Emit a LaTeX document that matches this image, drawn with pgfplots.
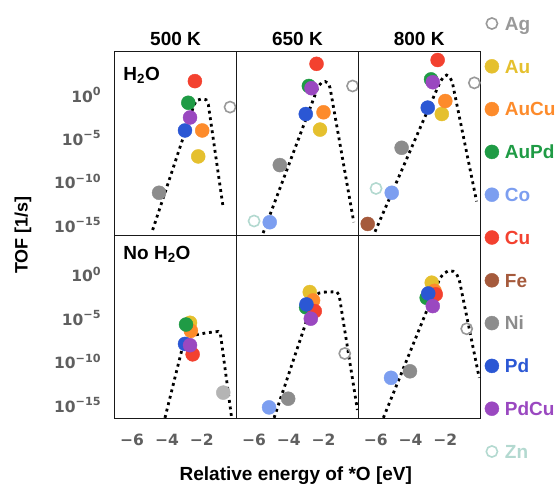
\documentclass[border=0pt]{standalone}
\usepackage{pgfplots}
\pgfplotsset{compat=1.18}
\usepackage{fontspec}
\setmainfont{Liberation Sans}
\newfontfamily\dv{DejaVu Sans}

\definecolor{cAg}{HTML}{999999}
\definecolor{cAu}{HTML}{E5C02E}
\definecolor{cAuCu}{HTML}{FD8B2B}
\definecolor{cAuPd}{HTML}{1F9B45}
\definecolor{cCo}{HTML}{7C9EF0}
\definecolor{cCu}{HTML}{F3412F}
\definecolor{cFe}{HTML}{A55A3C}
\definecolor{cNi}{HTML}{8C8C8C}
\definecolor{cPd}{HTML}{2B57D4}
\definecolor{cPdCu}{HTML}{9A48C0}
\definecolor{cZn}{HTML}{B3D9D0}
\definecolor{tickgray}{HTML}{5F5F5F}

\newcommand{\tp}[1]{10\raisebox{0.42em}{\fontsize{11.2}{11.2}\selectfont #1}}

\pgfplotsset{
  every axis title shift=0pt,
  panel/.style={scale only axis, width=121.8pt, height=183.5pt,
    xmin=-7, xmax=0, anchor=south west, clip=false,
    axis line style={line width=1.1pt, black!90},
    tick style={draw=none},
    xtick={-6,-4,-2}, ytick={-15,-10,-5,0},
    xticklabels={}, yticklabels={},
    ticklabel style={font=\dv\bfseries\fontsize{15.5}{16}\selectfont, text=tickgray},
    xticklabel style={yshift=-12pt},
    yticklabel style={xshift=-10.5pt},
    title style={at={(0.5,1)}, anchor=center, yshift=13pt, font=\bfseries\fontsize{19}{19}\selectfont},
    legend image code/.code={\draw[##1] plot coordinates {(7pt,0pt)};},
  },
  toprow/.style={ymin=-16.2, ymax=5},
  botrow/.style={ymin=-16.6, ymax=4.5},
  leftcol/.style={yticklabels={\tp{−15},\tp{−10},\tp{−5},\tp{0}}},
  botlabels/.style={xticklabels={−6,−4,−2}},
  fm/.style={only marks, mark=*, mark size=7pt, color=#1, mark options={draw=none, fill=#1}},
  om/.style={only marks, mark=o, mark size=5.6pt, color=#1, mark options={line width=1.6pt, draw=#1, fill=none}},
  volcano/.style={no marks, black, line width=2.8pt, dash pattern=on 2.8pt off 3.8pt, forget plot},
}

\begin{document}
\begin{tikzpicture}
\path (0pt,0pt) rectangle (559pt,489pt);

% ---------- 500 K, H2O ----------
\begin{axis}[panel, toprow, leftcol, at={(114.7pt,253.8pt)}, title={500 K}]
\addplot[om=cAg] coordinates {(-0.37,-1.4)};
\addplot[fm=cAu] coordinates {(-2.2,-7.1)};
\addplot[fm=cAuCu] coordinates {(-1.97,-4.1)};
\addplot[fm=cAuPd] coordinates {(-2.77,-0.9)};
\addplot[fm=cCu] coordinates {(-2.39,1.6)};
\addplot[fm=cNi] coordinates {(-4.45,-11.3)};
\addplot[fm=cPd] coordinates {(-2.96,-4.1)};
\addplot[fm=cPdCu] coordinates {(-2.67,-2.6)};
\addplot[volcano] coordinates {(-4.82,-15.6) (-2.5,-1.5) (-2.32,-0.65) (-2.0,-0.45) (-1.75,-0.55) (-1.62,-1.1) (-0.76,-13.1)};
\node[anchor=north west, inner sep=0pt, font=\bfseries\fontsize{19}{19}\selectfont] at (rel axis cs:0.0706,0.918) {H\textsubscript{2}O};
\end{axis}

% ---------- 650 K, H2O ----------
\begin{axis}[panel, toprow, at={(236.5pt,253.8pt)}, title={650 K}]
\addplot[om=cAg] coordinates {(-0.33,1.04)};
\addplot[fm=cAu] coordinates {(-2.2,-4.0)};
\addplot[fm=cAuCu] coordinates {(-2.0,-2.0)};
\addplot[fm=cAuPd] coordinates {(-2.84,1.04)};
\addplot[fm=cCo] coordinates {(-5.09,-14.7)};
\addplot[fm=cCu] coordinates {(-2.4,3.6)};
\addplot[fm=cNi] coordinates {(-4.51,-8.1)};
\addplot[fm=cPd] coordinates {(-3.02,-2.2)};
\addplot[fm=cPdCu] coordinates {(-2.69,0.78)};
\addplot[om=cZn] coordinates {(-5.99,-14.56)};
\addplot[volcano] coordinates {(-5.47,-15.95) (-2.3,1.0) (-2.1,1.45) (-1.9,1.55) (-1.72,1.35) (-1.62,0.8) (-0.26,-14.7)};
\end{axis}

% ---------- 800 K, H2O ----------
\begin{axis}[panel, toprow, at={(358.3pt,253.8pt)}, title={800 K},
  legend cell align=left,
  legend style={at={(1.0378,1.2027)}, anchor=north west, draw=none, fill=none, inner sep=0pt,
    row sep=25.2pt, font=\bfseries\fontsize{19}{19}\selectfont,
    nodes={text height=15.6pt, text depth=2pt, inner sep=0pt},
    /tikz/every odd column/.append style={column sep=6pt}}]
\addplot[om=cAg] coordinates {(-0.33,1.4)}; \addlegendentry{\textcolor{cAg}{Ag}}
\addplot[fm=cAu] coordinates {(-2.2,-2.2)}; \addlegendentry{\textcolor{cAu}{Au}}
\addplot[fm=cAuCu] coordinates {(-2.0,-0.7)}; \addlegendentry{\textcolor{cAuCu}{AuCu}}
\addplot[fm=cAuPd] coordinates {(-2.82,1.8)}; \addlegendentry{\textcolor{cAuPd}{AuPd}}
\addplot[fm=cCo] coordinates {(-5.08,-11.3)}; \addlegendentry{\textcolor{cCo}{Co}}
\addplot[fm=cCu] coordinates {(-2.44,4.04)}; \addlegendentry{\textcolor{cCu}{Cu}}
\addplot[fm=cFe] coordinates {(-6.46,-14.9)}; \addlegendentry{\textcolor{cFe}{Fe}}
\addplot[fm=cNi] coordinates {(-4.51,-6.1)}; \addlegendentry{\textcolor{cNi}{Ni}}
\addplot[fm=cPd] coordinates {(-3.01,-1.46)}; \addlegendentry{\textcolor{cPd}{Pd}}
\addplot[fm=cPdCu] coordinates {(-2.72,1.47)}; \addlegendentry{\textcolor{cPdCu}{PdCu}}
\addplot[om=cZn] coordinates {(-5.98,-10.8)}; \addlegendentry{\textcolor{cZn}{Zn}}
\addplot[volcano] coordinates {(-6.04,-15.8) (-2.3,1.5) (-2.1,2.1) (-1.92,2.3) (-1.75,2.1) (-1.6,1.5) (-0.2,-12.3)};
\end{axis}

% ---------- 500 K, no H2O ----------
\begin{axis}[panel, botrow, leftcol, botlabels, at={(114.7pt,70.3pt)}]
\addplot[fm=cAu] coordinates {(-2.67,-5.57)};
\addplot[fm=cAuCu] coordinates {(-2.62,-6.5)};
\addplot[fm=cAuPd] coordinates {(-2.9,-5.77)};
\addplot[fm=cCu] coordinates {(-2.52,-9.2)};
\addplot[fm=cNi!65!white] coordinates {(-0.76,-13.6)};
\addplot[fm=cPd] coordinates {(-2.96,-8.0)};
\addplot[fm=cPdCu] coordinates {(-2.67,-8.15)};
\addplot[volcano] coordinates {(-4.11,-16.5) (-3.09,-8.27) (-2.85,-7.45) (-2.6,-7.05) (-1.71,-6.72) (-1.05,-6.57) (-0.92,-6.9) (-0.28,-16.5)};
\node[anchor=north west, inner sep=0pt, font=\bfseries\fontsize{19}{19}\selectfont] at (rel axis cs:0.0706,0.942) {No H\textsubscript{2}O};
\end{axis}

% ---------- 650 K, no H2O ----------
\begin{axis}[panel, botrow, botlabels, at={(236.5pt,70.3pt)}]
\addplot[om=cAg] coordinates {(-0.78,-9.1)};
\addplot[fm=cAu] coordinates {(-2.79,-2.04)};
\addplot[fm=cAuCu] coordinates {(-2.6,-3.0)};
\addplot[fm=cAuPd] coordinates {(-3.0,-3.8)};
\addplot[fm=cCo] coordinates {(-5.13,-15.3)};
\addplot[fm=cCu] coordinates {(-2.5,-4.23)};
\addplot[fm=cNi] coordinates {(-4.03,-14.3)};
\addplot[fm=cPd] coordinates {(-2.98,-3.46)};
\addplot[fm=cPdCu] coordinates {(-2.73,-5.1)};
\addplot[volcano] coordinates {(-4.84,-16.5) (-2.5,-2.5) (-2.25,-2.15) (-2.0,-2.05) (-1.24,-2.0) (-1.1,-2.4) (-0.05,-15.6)};
\end{axis}

% ---------- 800 K, no H2O ----------
\begin{axis}[panel, botrow, botlabels, at={(358.3pt,70.3pt)}]
\addplot[om=cAg] coordinates {(-0.77,-6.26)};
\addplot[fm=cAu] coordinates {(-2.78,-0.96)};
\addplot[fm=cAuCu] coordinates {(-2.62,-1.9)};
\addplot[fm=cAuPd] coordinates {(-3.07,-2.7)};
\addplot[fm=cCo] coordinates {(-5.12,-11.9)};
\addplot[fm=cCu] coordinates {(-2.55,-2.3)};
\addplot[fm=cNi] coordinates {(-4.03,-11.15)};
\addplot[fm=cPd] coordinates {(-2.98,-2.2)};
\addplot[fm=cPdCu] coordinates {(-2.72,-3.65)};
\addplot[volcano] coordinates {(-5.56,-16.5) (-2.3,-0.4) (-2.05,0.15) (-1.8,0.42) (-1.55,0.35) (-1.35,0.0) (-1.2,-0.6) (-0.05,-11.9)};
\end{axis}

\node[rotate=90, font=\bfseries\fontsize{18}{18}\selectfont] at (23pt,254pt) {TOF [1/s]};
\node[font=\bfseries\fontsize{19}{19}\selectfont] at (295.8pt,13.5pt) {Relative energy of *O [eV]};
\end{tikzpicture}
\end{document}
